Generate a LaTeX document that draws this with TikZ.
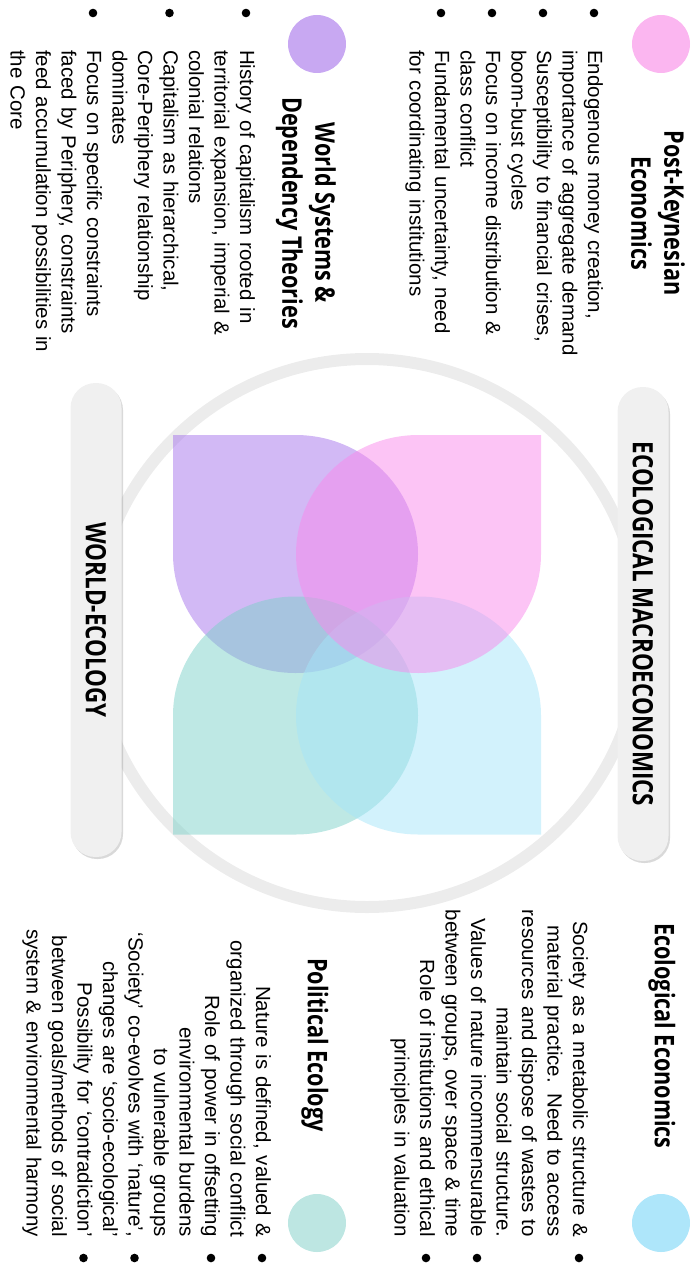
\documentclass[tikz,border=0pt]{standalone}
\usepackage{fontspec}
\setmainfont{Liberation Sans}
\newfontfamily\headfont[FakeStretch=0.8]{Open Sans}
\usepackage{xcolor}
\usetikzlibrary{positioning,calc,shadows}

\definecolor{pkpink}{RGB}{249,137,235}
\definecolor{wspurple}{RGB}{165,115,235}
\definecolor{eeblue}{RGB}{165,229,249}
\definecolor{peteal}{RGB}{125,209,201}
\definecolor{dotpink}{RGB}{251,182,240}
\definecolor{dotpurple}{RGB}{200,168,242}
\definecolor{dotblue}{RGB}{174,230,250}
\definecolor{dotteal}{RGB}{189,230,226}
\definecolor{ringgray}{RGB}{236,236,236}
\definecolor{pillgray}{RGB}{240,240,240}

\tikzset{
  petal/.style={fill=#1,fill opacity=0.5},
  topicdot/.style={circle,fill=#1,minimum size=58pt,inner sep=0pt},
  bodytext/.style={font=\fontsize{20.5}{25.5}\selectfont,inner sep=0pt,text width=360pt},
  headtext/.style={font=\headfont\bfseries\fontsize{27}{33}\selectfont,align=center,inner sep=0pt},
  pill/.style={rounded corners=25pt,fill=pillgray,minimum width=474pt,minimum height=51pt,
    font=\headfont\bfseries\fontsize{28}{33}\selectfont,inner sep=0pt,
    drop shadow={shadow xshift=1.5pt,shadow yshift=-2pt,opacity=0.3}},
}

% one petal: colour, centre of its round part, start angle of the arc
\newcommand{\petal}[3]{%
  \fill[petal=#1] (#2) ++(#3:119 and 122.5)
    arc[start angle=#3,delta angle=-270,x radius=119,y radius=122.5]
    -- ++(#3:119 and 122.5) -- cycle;}

\begin{document}
\begin{tikzpicture}[x=1pt,y=1pt,rotate=-90,transform shape]
  \useasboundingbox (0,0) rectangle (1268,691);

  % Background ring
  \draw[ringgray,line width=12pt] (633,367) circle (274);

  % Petals
  \petal{wspurple}{554,295.5}{180}
  \petal{peteal}{715.5,295.5}{270}
  \petal{eeblue}{715.5,418.5}{0}
  \petal{pkpink}{554,418.5}{90}

  % Side labels
  \node[pill] (worldeco) at (620,96) {WORLD-ECOLOGY};
  \node[pill] (ecomacro) at (624,643) {ECOLOGICAL MACROECONOMICS};

  % Topic dots
  \node[topicdot=dotpink] (pkdot) at (44,661) {};
  \node[topicdot=dotpurple] (wsdot) at (44,317) {};
  \node[topicdot=dotblue] (eedot) at (1223,661) {};
  \node[topicdot=dotteal] (pedot) at (1223,317) {};

  % Headings
  \node[headtext] (pkhead) at (213,658) {Post-Keynesian\\Economics};
  \node[headtext] (wshead) at (213,306) {World Systems \&\\Dependency Theories};
  \node[headtext] (eehead) at (1036,662) {Ecological Economics};
  \node[headtext] (pehead) at (1045,315) {Political Ecology};

  % Bullet texts
  \node[bodytext,align=left,anchor=base west] (pktext) at (50,588) {%
    Endogenous money creation,\\importance of aggregate demand\\
    Susceptibility to financial crises,\\boom-bust cycles\\
    Focus on income distribution \&\\class conflict\\
    Fundamental uncertainty, need\\for coordinating institutions};
  \node[bodytext,align=left,anchor=base west] (wstext) at (50,240) {%
    History of capitalism rooted in\\territorial expansion, imperial \&\\colonial relations\\
    Capitalism as hierarchical,\\Core-Periphery relationship\\dominates\\
    Focus on specific constraints\\faced by Periphery, constraints\\
    feed accumulation possibilities in\\the Core};
  \node[bodytext,align=right,anchor=base east] (eetext) at (1237,573) {%
    Society as a metabolic structure \&\\material practice. Need to access\\
    resources and dispose of wastes to\\maintain social structure.\\
    Values of nature incommensurable\\between groups, over space \& time\\
    Role of institutions and ethical\\principles in valuation};
  \node[bodytext,align=right,anchor=base east] (petext) at (1237,256) {%
    Nature is defined, valued \&\\organized through social conflict\\
    Role of power in offsetting\\environmental burdens\\to vulnerable groups\\
    ‘Society’ co-evolves with ‘nature’,\\changes are ‘socio-ecological’\\
    Possibility for ‘contradiction’\\between goals/methods of social\\
    system \& environmental harmony};

  % Bullets
  \foreach \y in {594,543,492,441,246,169.5,93}
    \fill (13,\y) circle (4.3);
  \foreach \y in {579,477,426,262,211,134.5,83.5}
    \fill (1258,\y) circle (4.3);
\end{tikzpicture}
\end{document}
